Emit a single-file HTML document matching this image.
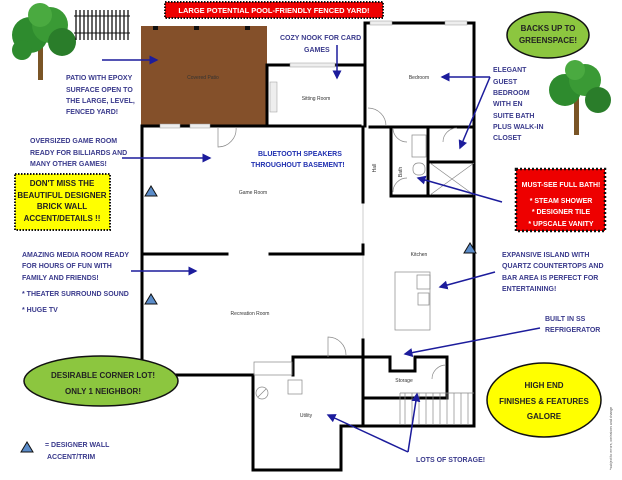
<!DOCTYPE html>
<html><head><meta charset="utf-8"><style>
html,body{margin:0;padding:0;background:#fff;}
svg{display:block;font-family:"Liberation Sans",sans-serif;}
.a{font-size:7px;font-weight:bold;fill:#3a3a8c;}
.r{font-size:5px;fill:#333;}
.k{font-size:8px;font-weight:bold;fill:#222;}
</style></head><body>
<svg width="622" height="480" viewBox="0 0 622 480" xmlns="http://www.w3.org/2000/svg">
<defs><marker id="m" markerWidth="6" markerHeight="6" refX="5" refY="3" orient="auto"><path d="M0,0 L6,3 L0,6z" fill="#1c1c9c"/></marker></defs>
<g>
<rect x="38" y="45" width="5" height="35" fill="#7a5526"/>
<circle cx="30" cy="35" r="18" fill="#2e8b2e"/><circle cx="50" cy="25" r="18" fill="#3a9a35"/><circle cx="62" cy="42" r="14" fill="#2a7d2a"/><circle cx="40" cy="15" r="12" fill="#4aaa40"/><circle cx="22" cy="50" r="10" fill="#2e8b2e"/>
</g>
<g>
<rect x="574" y="95" width="5" height="40" fill="#7a5526"/>
<circle cx="565" cy="90" r="16" fill="#2e8b2e"/><circle cx="585" cy="80" r="16" fill="#3a9a35"/><circle cx="598" cy="100" r="13" fill="#2a7d2a"/><circle cx="575" cy="70" r="10" fill="#4aaa40"/>
</g>
<g stroke="#111" stroke-width="1"><line x1="74" y1="16" x2="130" y2="16"/><line x1="74" y1="33" x2="130" y2="33"/>
<g stroke-width="1.3"><line x1="76" y1="10" x2="76" y2="40"/><line x1="80" y1="10" x2="80" y2="40"/><line x1="84" y1="10" x2="84" y2="40"/><line x1="88" y1="10" x2="88" y2="40"/><line x1="92" y1="10" x2="92" y2="40"/><line x1="96" y1="10" x2="96" y2="40"/><line x1="100" y1="10" x2="100" y2="40"/><line x1="104" y1="10" x2="104" y2="40"/><line x1="108" y1="10" x2="108" y2="40"/><line x1="112" y1="10" x2="112" y2="40"/><line x1="116" y1="10" x2="116" y2="40"/><line x1="120" y1="10" x2="120" y2="40"/><line x1="124" y1="10" x2="124" y2="40"/><line x1="128" y1="10" x2="128" y2="40"/></g></g>
<rect x="165" y="2" width="218" height="16" fill="#e00" stroke="#111" stroke-width="2" stroke-dasharray="1.5,1.5"/>
<text x="274" y="13" text-anchor="middle" font-size="7.5" font-weight="bold" fill="#fff">LARGE POTENTIAL POOL-FRIENDLY FENCED YARD!</text>
<rect x="141" y="26" width="126" height="99" fill="#84502a"/>
<rect x="153" y="26" width="5" height="4" fill="#111"/><rect x="194" y="26" width="5" height="4" fill="#111"/><rect x="245" y="26" width="5" height="4" fill="#111"/>
<text x="203" y="79" text-anchor="middle" class="r">Covered Patio</text>
<line x1="363" y1="202" x2="363" y2="340" stroke="#ccc" stroke-width="1"/>
<g stroke="#000" stroke-width="3" fill="none" stroke-linecap="square">
<path d="M267,65 V126"/><path d="M267,65 H364"/>
<path d="M365,23 V126"/><path d="M365,23 H474 V426 H341 V470 H253 V375 H142 V126 H275"/>
<path d="M142,126 H360"/>
<path d="M370,127 H474"/>
<path d="M142,254 H227"/><path d="M270,254 H363 V245"/>
<path d="M363,127 V202"/><path d="M363,340 V426"/>
<path d="M391,127 V196 H474"/><path d="M428,127 V196"/><path d="M428,162 H474"/>
<path d="M293,375 V357 H390 V371 H415 V357 H447 V398 H363"/>
</g>
<g fill="#eee" stroke="#999" stroke-width="0.5">
<rect x="160" y="124" width="20" height="4"/><rect x="190" y="124" width="20" height="4"/>
<rect x="290" y="63" width="45" height="4"/><rect x="370" y="21" width="22" height="4"/><rect x="445" y="21" width="22" height="4"/>
<rect x="270" y="82" width="7" height="30"/>
</g>
<g fill="none" stroke="#888" stroke-width="0.7">
<path d="M218,127 V147 A18,18 0 0 0 236,127"/>
<path d="M368,108 A18,18 0 0 1 386,126"/>
<path d="M393,128 A14,14 0 0 0 407,142"/>
<path d="M457,128 A14,14 0 0 0 443,142"/>
<path d="M393,192 A14,14 0 0 1 407,178"/>
<path d="M328,357 V337 A18,18 0 0 1 346,355"/>
<path d="M446,365 A14,14 0 0 0 432,379"/>
<rect x="412" y="135" width="14" height="22"/><rect x="413" y="163" width="12" height="12" rx="5"/>
<path d="M430,163 L474,195 M474,163 L430,195"/>
<rect x="395" y="272" width="35" height="58"/><rect x="417" y="275" width="13" height="14"/><rect x="418" y="293" width="11" height="12"/>
<path d="M400,393 H474 M400,393 V425 M405,393 V425 M412,393 V425 M419,393 V425 M426,393 V425 M433,393 V425 M440,393 V425 M447,393 V425 M454,393 V425 M461,393 V425 M468,393 V425"/>
<rect x="254" y="362" width="38" height="13"/><rect x="288" y="380" width="14" height="14"/>
<circle cx="262" cy="393" r="6"/><line x1="258" y1="397" x2="266" y2="389"/>
</g>
<g class="r" text-anchor="middle">
<text x="316" y="100">Sitting Room</text><text x="419" y="79">Bedroom</text>
<text x="253" y="194">Game Room</text><text x="250" y="315">Recreation Room</text>
<text x="419" y="256">Kitchen</text><text x="404" y="382">Storage</text><text x="306" y="417">Utility</text>
<text transform="translate(376,168) rotate(-90)">Hall</text><text transform="translate(402,172) rotate(-90)">Bath</text>
</g>
<g fill="#5b8cc9" stroke="#111" stroke-width="1">
<path d="M145,196 L151,186 L157,196z"/><path d="M145,304 L151,294 L157,304z"/><path d="M464,253 L470,243 L476,253z"/><path d="M21,452 L27,442 L33,452z"/>
</g>
<g stroke="#1c1c9c" stroke-width="1.5" marker-end="url(#m)" fill="none">
<path d="M102,60 H157"/><path d="M337,45 V78"/><path d="M122,158 H210"/>
<path d="M490,77 H442"/><path d="M490,77 L460,148"/><path d="M502,202 L418,178"/>
<path d="M131,271 H196"/><path d="M495,272 L440,287"/><path d="M540,328 L405,354"/>
<path d="M408,452 L328,415"/><path d="M408,452 L417,394"/>
</g>
<g class="a">
<text x="66" y="80">PATIO WITH EPOXY</text><text x="66" y="92">SURFACE OPEN TO</text><text x="66" y="103">THE LARGE, LEVEL,</text><text x="66" y="114">FENCED YARD!</text>
<text x="30" y="143">OVERSIZED GAME ROOM</text><text x="30" y="155">READY FOR BILLIARDS AND</text><text x="30" y="166">MANY OTHER GAMES!</text>
<text x="280" y="40">COZY NOOK FOR CARD</text><text x="304" y="52">GAMES</text>
<text x="258" y="156" fill="#1f2fb0">BLUETOOTH SPEAKERS</text><text x="251" y="167" fill="#1f2fb0">THROUGHOUT BASEMENT!</text>
<text x="493" y="72">ELEGANT</text><text x="493" y="84">GUEST</text><text x="493" y="95">BEDROOM</text><text x="493" y="106">WITH EN</text><text x="493" y="118">SUITE BATH</text><text x="493" y="129">PLUS WALK-IN</text><text x="493" y="140">CLOSET</text>
<text x="22" y="257">AMAZING MEDIA ROOM READY</text><text x="22" y="268">FOR HOURS OF FUN WITH</text><text x="22" y="280">FAMILY AND FRIENDS!</text><text x="22" y="296">* THEATER SURROUND SOUND</text><text x="22" y="312">* HUGE TV</text>
<text x="502" y="257">EXPANSIVE ISLAND WITH</text><text x="502" y="268">QUARTZ COUNTERTOPS  AND</text><text x="502" y="280">BAR AREA IS PERFECT FOR</text><text x="502" y="291">ENTERTAINING!</text>
<text x="545" y="321">BUILT IN SS</text><text x="545" y="332">REFRIGERATOR</text>
<text x="416" y="462">LOTS OF STORAGE!</text>
<text x="45" y="447">=  DESIGNER WALL</text><text x="47" y="459">ACCENT/TRIM</text>
</g>
<rect x="15" y="174" width="95" height="56" fill="#ff0" stroke="#111" stroke-width="2" stroke-dasharray="1.5,1.5"/>
<g class="k" font-size="7" text-anchor="middle"><text x="62" y="186">DON'T MISS THE</text><text x="62" y="198">BEAUTIFUL DESIGNER</text><text x="62" y="209">BRICK WALL</text><text x="62" y="221">ACCENT/DETAILS !!</text></g>
<rect x="516" y="169" width="89" height="62" fill="#e00" stroke="#111" stroke-width="2.5" stroke-dasharray="2,2"/>
<g font-size="7" font-weight="bold" fill="#fff" text-anchor="middle"><text x="561" y="187">MUST-SEE FULL BATH!</text><text x="561" y="203">* STEAM SHOWER</text><text x="561" y="214">* DESIGNER TILE</text><text x="561" y="226">* UPSCALE VANITY</text></g>
<ellipse cx="548" cy="35" rx="41" ry="23" fill="#8cc63f" stroke="#111" stroke-width="1.5"/>
<g class="k" text-anchor="middle"><text x="548" y="31">BACKS UP TO</text><text x="548" y="43">GREENSPACE!</text></g>
<ellipse cx="101" cy="381" rx="77" ry="25" fill="#8cc63f" stroke="#111" stroke-width="1.5"/>
<g class="k" font-size="9" text-anchor="middle"><text x="103" y="378">DESIRABLE CORNER LOT!</text><text x="103" y="394">ONLY 1 NEIGHBOR!</text></g>
<ellipse cx="544" cy="400" rx="57" ry="37" fill="#ff0" stroke="#111" stroke-width="1.5"/>
<g class="k" font-size="9" text-anchor="middle"><text x="544" y="388">HIGH END</text><text x="544" y="404">FINISHES &amp; FEATURES</text><text x="544" y="419">GALORE</text></g>
<text transform="translate(612,470) rotate(-90)" font-size="3.5" fill="#555">*subject to errors, omissions and change</text>
</svg>
</body></html>
